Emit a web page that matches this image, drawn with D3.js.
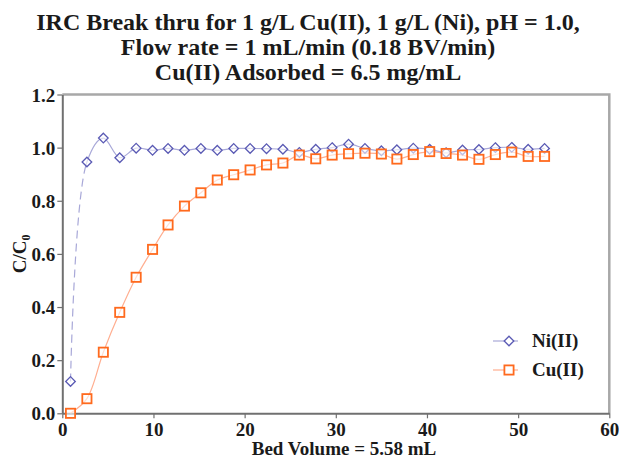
<!DOCTYPE html>
<html><head><meta charset="utf-8">
<script src="https://cdn.jsdelivr.net/npm/d3@7"></script>
<style>body{margin:0;background:#fff} svg{display:block}</style>
</head><body><svg id="c" width="619" height="459"></svg>
<script>
const bedVolumes = [0.9, 2.7, 4.5, 6.3, 8.1, 9.9, 11.6, 13.4, 15.2, 17.0, 18.8, 20.6, 22.4, 24.2, 26.0,
  27.8, 29.6, 31.4, 33.2, 35.0, 36.7, 38.5, 40.3, 42.1, 43.9, 45.7, 47.5, 49.3, 51.1, 52.9];
const niValues = [0.12, 0.946, 1.036, 0.962, 0.998, 0.99, 0.997, 0.99, 0.997, 0.99, 0.997, 0.997, 0.996, 0.994, 0.982,
  0.994, 1.0, 1.013, 0.997, 0.988, 0.992, 0.998, 0.994, 0.981, 0.991, 0.993, 1.0, 1.001, 0.994, 0.997];
const cuValues = [0.0, 0.055, 0.23, 0.38, 0.512, 0.617, 0.709, 0.78, 0.83, 0.878, 0.898, 0.916, 0.935, 0.942, 0.972,
  0.958, 0.972, 0.977, 0.979, 0.976, 0.957, 0.974, 0.985, 0.978, 0.972, 0.956, 0.974, 0.983, 0.967, 0.967];
const xTicks = [0, 10, 20, 30, 40, 50, 60];
const yTicks = [0, 0.2, 0.4, 0.6, 0.8, 1.0, 1.2];
const titleLines = ["IRC Break thru for 1 g/L Cu(II), 1 g/L (Ni), pH = 1.0,",
  "Flow rate = 1 mL/min (0.18 BV/min)", "Cu(II) Adsorbed = 6.5 mg/mL"];
const seriesNames = ["Ni(II)", "Cu(II)"];
const xTitle = "Bed Volume = 5.58 mL";

const FONT = "'Liberation Serif','Times New Roman',serif";
const svg = d3.select("#c");
const x = d3.scaleLinear().domain([0, 60]).range([62.3, 609.3]);
const y = d3.scaleLinear().domain([0, 1.2]).range([413.3, 94.5]);

// title
svg.append("g").selectAll("text").data(titleLines).join("text")
  .attr("x", 308).attr("y", (d, i) => 30 + i * 25)
  .attr("text-anchor", "middle").attr("font-family", FONT).attr("font-weight", "bold")
  .attr("font-size", 24).attr("fill", "#1a1a1a").text(d => d);

// frame top/right
svg.append("path")
  .attr("d", `M${x(0)},${y(1.2)}H${x(60)}V${y(0)}`)
  .attr("fill", "none").attr("stroke", "#a8a8a8").attr("stroke-width", 2.5);

// axes
const xa = svg.append("g").attr("transform", `translate(0,${y(0)})`)
  .call(d3.axisBottom(x).tickValues(xTicks).tickSize(5).tickSizeOuter(0).tickPadding(4).tickFormat(d3.format("d")));
const ya = svg.append("g").attr("transform", `translate(${x(0)},0)`)
  .call(d3.axisLeft(y).tickValues(yTicks).tickSize(5).tickSizeOuter(0).tickPadding(2).tickFormat(d3.format(".1f")));
[xa, ya].forEach(g => {
  g.select(".domain").attr("stroke", "#707070").attr("stroke-width", 2);
  g.selectAll(".tick line").attr("stroke", "#707070").attr("stroke-width", 1.2);
  g.selectAll(".tick text").attr("font-family", FONT).attr("font-weight", "bold")
    .attr("font-size", 19).attr("fill", "#1a1a1a");
});
ya.selectAll(".tick text").attr("dy", "0.35em");

// axis titles
svg.append("text").attr("x", 344).attr("y", 455).attr("text-anchor", "middle")
  .attr("font-family", FONT).attr("font-weight", "bold").attr("font-size", 19).attr("fill", "#1a1a1a")
  .text(xTitle);
const yt = svg.append("text").attr("transform", `translate(26,${(y(0) + y(1.2)) / 2}) rotate(-90)`)
  .attr("text-anchor", "middle").attr("font-family", FONT).attr("font-weight", "bold")
  .attr("font-size", 19).attr("fill", "#1a1a1a");
yt.append("tspan").text("C/C");
yt.append("tspan").attr("font-size", 12).attr("dy", 4).text("0");

// series
const ni = bedVolumes.map((b, i) => [b, niValues[i]]);
const cu = bedVolumes.map((b, i) => [b, cuValues[i]]);
const line = d3.line().x(d => x(d[0])).y(d => y(d[1])).curve(d3.curveCatmullRom.alpha(0.5));

svg.append("path").attr("d", line(cu)).attr("fill", "none")
  .attr("stroke", "#ffae90").attr("stroke-width", 1.2);
const niPath = svg.append("path").attr("d", line(ni)).attr("fill", "none")
  .attr("stroke", "#a8a8d8").attr("stroke-width", 1.2);

// dashed first segment of Ni curve (as in reference)
{
  const node = niPath.node();
  const total = node.getTotalLength();
  const tx = x(ni[1][0]), ty = y(ni[1][1]);
  let best = 0, bestD = Infinity;
  for (let l = 0; l <= total * 0.3; l += 0.5) {
    const p = node.getPointAtLength(l);
    const dd = (p.x - tx) ** 2 + (p.y - ty) ** 2;
    if (dd < bestD) { bestD = dd; best = l; }
  }
  const arr = [];
  let s = 0;
  while (s < best - 8) { arr.push(8, 5); s += 13; }
  arr.push(best - s > 0 ? best - s : 0, 0, total, 0);
  niPath.attr("stroke-dasharray", arr.join(" "));
}

const diamond = (cx, cy, r) => `M${cx},${cy - r}L${cx + r},${cy}L${cx},${cy + r}L${cx - r},${cy}Z`;
svg.append("g").selectAll("path").data(ni).join("path")
  .attr("d", d => diamond(x(d[0]), y(d[1]), 4.8))
  .attr("fill", "#fff").attr("fill-opacity", 0.6).attr("stroke", "#5a5ab4").attr("stroke-width", 1.3);
svg.append("g").selectAll("rect").data(cu).join("rect")
  .attr("x", d => x(d[0]) - 4.6).attr("y", d => y(d[1]) - 4.6)
  .attr("width", 9.2).attr("height", 9.2)
  .attr("fill", "#fff").attr("fill-opacity", 0.6).attr("stroke", "#ff6a1e").attr("stroke-width", 1.8);

// legend
const leg = svg.append("g");
const ly = [341, 370];
leg.append("line").attr("x1", 493).attr("x2", 518).attr("y1", ly[0]).attr("y2", ly[0])
  .attr("stroke", "#a8a8d8").attr("stroke-width", 1.2);
leg.append("path").attr("d", diamond(509, ly[0], 4.8))
  .attr("fill", "#fff").attr("stroke", "#5a5ab4").attr("stroke-width", 1.3);
leg.append("line").attr("x1", 493).attr("x2", 518).attr("y1", ly[1]).attr("y2", ly[1])
  .attr("stroke", "#ffae90").attr("stroke-width", 1.2);
leg.append("rect").attr("x", 509 - 4.6).attr("y", ly[1] - 4.6).attr("width", 9.2).attr("height", 9.2)
  .attr("fill", "#fff").attr("stroke", "#ff6a1e").attr("stroke-width", 1.8);
leg.selectAll("text").data(seriesNames).join("text")
  .attr("x", 532).attr("y", (d, i) => ly[i] + 6)
  .attr("font-family", FONT).attr("font-weight", "bold").attr("font-size", 19).attr("fill", "#1a1a1a")
  .text(d => d);
</script></body></html>
